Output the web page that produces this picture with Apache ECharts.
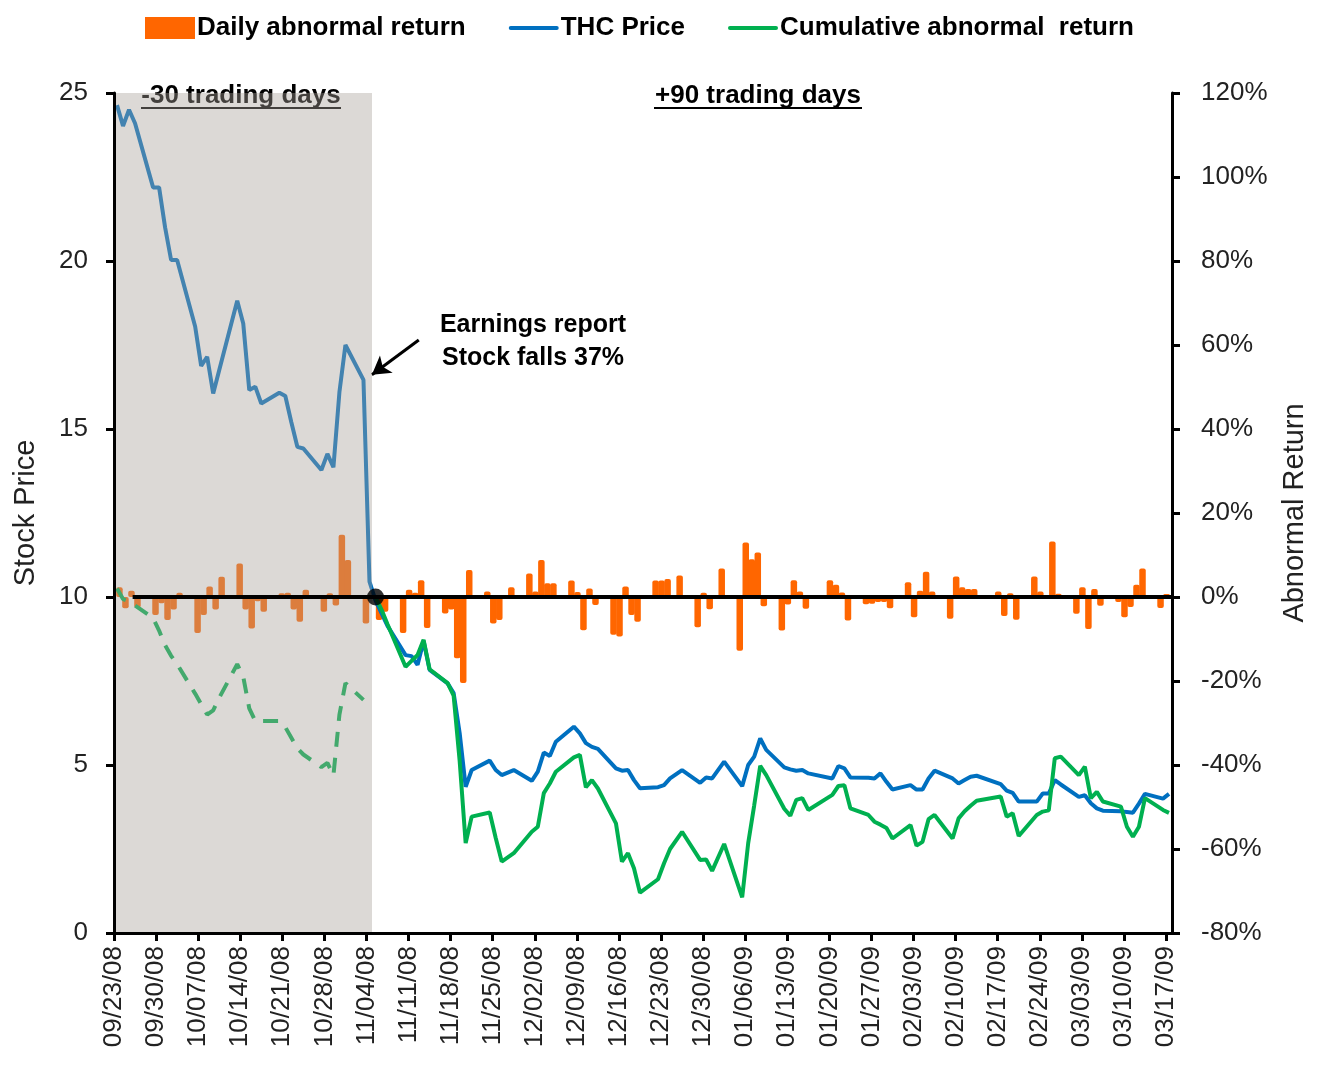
<!DOCTYPE html>
<html><head><meta charset="utf-8">
<script src="https://cdn.jsdelivr.net/npm/echarts@6/dist/echarts.min.js"></script>
<style>html,body{margin:0;padding:0;background:#fff}#c{width:1317px;height:1065px}</style>
</head><body><div id="c"></div>
<script>
// ---------- DATA ----------
const preDates = [
 '09/23/08','09/24/08','09/25/08','09/26/08',
 '09/29/08','09/30/08','10/01/08','10/02/08','10/03/08',
 '10/06/08','10/07/08','10/08/08','10/09/08','10/10/08',
 '10/13/08','10/14/08','10/15/08','10/16/08','10/17/08',
 '10/20/08','10/21/08','10/22/08','10/23/08','10/24/08',
 '10/27/08','10/28/08','10/29/08','10/30/08','10/31/08',
 '11/03/08','11/04/08'];
const postDates = [
 '11/05/08','11/06/08','11/07/08',
 '11/10/08','11/11/08','11/12/08','11/13/08','11/14/08',
 '11/17/08','11/18/08','11/19/08','11/20/08','11/21/08',
 '11/24/08','11/25/08','11/26/08','11/28/08',
 '12/01/08','12/02/08','12/03/08','12/04/08','12/05/08',
 '12/08/08','12/09/08','12/10/08','12/11/08','12/12/08',
 '12/15/08','12/16/08','12/17/08','12/18/08','12/19/08',
 '12/22/08','12/23/08','12/24/08','12/26/08',
 '12/29/08','12/30/08','12/31/08','01/02/09',
 '01/05/09','01/06/09','01/07/09','01/08/09','01/09/09',
 '01/12/09','01/13/09','01/14/09','01/15/09','01/16/09',
 '01/20/09','01/21/09','01/22/09','01/23/09',
 '01/26/09','01/27/09','01/28/09','01/29/09','01/30/09',
 '02/02/09','02/03/09','02/04/09','02/05/09','02/06/09',
 '02/09/09','02/10/09','02/11/09','02/12/09','02/13/09',
 '02/17/09','02/18/09','02/19/09','02/20/09',
 '02/23/09','02/24/09','02/25/09','02/26/09','02/27/09',
 '03/02/09','03/03/09','03/04/09','03/05/09','03/06/09',
 '03/09/09','03/10/09','03/11/09','03/12/09','03/13/09',
 '03/16/09','03/17/09'];

const pricePre = [
 24.64,24.02,24.5,24.1,
 22.19,22.19,21.0,20.03,20.03,
 18.05,16.88,17.15,16.06,16.75,
 18.82,18.14,16.16,16.26,15.76,
 16.08,15.98,15.2,14.47,14.42,
 13.78,14.26,13.86,16.1,17.5,
 16.46,10.46];
const pricePost = [
 9.9,9.52,9.14,
 8.27,8.24,7.98,8.69,7.83,
 7.43,7.14,5.95,4.35,4.85,
 5.13,4.85,4.70,4.85,
 4.53,4.80,5.37,5.27,5.69,
 6.14,5.94,5.65,5.54,5.48,
 4.90,4.83,4.85,4.55,4.31,
 4.34,4.40,4.60,4.85,
 4.47,4.63,4.60,5.10,
 4.37,5.00,5.25,5.79,5.45,
 4.93,4.87,4.83,4.85,4.75,
 4.60,4.97,4.90,4.63,
 4.62,4.60,4.75,4.50,4.27,
 4.40,4.27,4.27,4.60,4.83,
 4.60,4.45,4.55,4.65,4.68,
 4.43,4.24,4.17,3.91,
 3.91,4.15,4.15,4.55,4.42,
 4.05,4.10,3.86,3.71,3.64,
 3.62,3.60,3.58,3.85,4.14,
 4.00,4.14];

const dailyPre = [
 2.3,-2.7,1.5,-2.5,
 -4.3,-1.5,-5.5,-3.0,1.0,
 -8.6,-4.3,2.5,-3.0,4.8,
 8.0,-3.0,-7.5,-1.0,-3.5,
 0.9,1.0,-3.0,-5.9,1.7,
 -3.5,0.9,-2.0,14.8,8.8,
 -6.3,null];
const dailyPost = [
 0.5,-5.5,-3.5,
 -8.6,1.7,1.0,4.0,-7.4,
 -3.9,-3.0,-14.6,-20.5,6.4,
 1.3,-6.3,-5.5,2.3,
 5.6,1.3,8.8,3.3,3.3,
 3.9,1.2,-7.9,2.0,-1.9,
 -9.0,-9.4,2.5,-4.3,-5.9,
 3.9,3.9,4.3,5.1,
 -7.2,1.0,-2.9,6.8,
 -12.8,13.0,9.0,10.6,-2.2,
 -8.0,-1.8,4.0,1.3,-2.8,
 4.0,2.9,1.1,-5.6,
 -1.7,-1.6,-1.2,-1.2,-2.7,
 3.5,-4.8,1.5,6.0,1.3,
 -5.2,4.9,2.3,1.9,1.9,
 1.3,-4.5,0.9,-5.4,
 4.9,1.3,0.5,13.2,0.8,
 -4.0,2.3,-7.6,1.9,-2.1,
 -1.2,-4.8,-2.4,2.9,6.8,
 -2.6,0.7];

const carPre = [
 2.0,-0.5,-1.0,-2.0,
 -5.0,-8.0,-11.5,-14.0,-16.0,
 -23.0,-25.5,-28.0,-27.0,-24.0,
 -16.0,-19.0,-26.5,-29.5,-29.5,
 -29.5,-31.0,-33.5,-36.0,-37.5,
 -40.5,-39.5,-42.5,-28.0,-20.5,
 -24.5,null];
const carPost = [
 0,-3,-6.5,
 -16.6,-15.2,-13.8,-10.2,-17.2,
 -20.5,-23.5,-39,-58.6,-52.3,
 -51.3,-57.4,-63,-61,
 -55.9,-54.7,-46.7,-44.4,-41.6,
 -38.2,-37.6,-45.3,-43.6,-45.6,
 -53.9,-63,-61,-64.6,-70.4,
 -67.2,-63.4,-60,-55.9,
 -62.6,-62.5,-65.2,-58.8,
 -71.5,-58.6,-49.6,-40.2,-42.4,
 -50.4,-52.1,-48.3,-47.9,-50.7,
 -47.1,-45,-44.8,-50.3,
 -51.9,-53.5,-54.2,-55,-57.5,
 -54.3,-59.2,-58.3,-52.9,-51.9,
 -57.5,-52.7,-51,-49.7,-48.5,
 -47.5,-52.3,-51.5,-56.9,
 -51.9,-51.1,-50.8,-38.4,-38,
 -42.4,-40.4,-47.9,-46.4,-48.7,
 -49.9,-54.7,-57.1,-54.7,-47.9,
 -50.7,-51.4];

const legendNames = ['Daily abnormal return','THC Price','Cumulative abnormal  return'];
const priceAxis = {min:0, max:25, interval:5};
const returnAxis = {min:-80, max:120, interval:20};
const axisStartDate = '09/23/08';
const axisEndDate = '03/18/09';
const tickEveryDays = 7;
const eventDate = '11/05/08';
const shadeEndDate = '11/04/08';
const zeroLineStartDate = '09/26/08';
const headerPre = '-30 trading days';
const headerPost = '+90 trading days';
const noteLines = ['Earnings report','Stock falls 37%'];

// ---------- HELPERS ----------
function parseD(s){const [m,d,y]=s.split('/').map(Number);return Date.UTC(2000+y,m-1,d);}
const T0 = parseD(axisStartDate);
const dayOf = s => Math.round((parseD(s)-T0)/86400000);
const X = s => dayOf(s)+0.5;
const fmtDay = v => {const dt=new Date(T0+v*86400000);const p=n=>String(n).padStart(2,'0');
  return p(dt.getUTCMonth()+1)+'/'+p(dt.getUTCDate())+'/'+p(dt.getUTCFullYear()%100);};

const allDates = preDates.concat(postDates);
const allPrice = pricePre.concat(pricePost);

const FONT = 'Liberation Sans';
const LINE_ICON = 'path://M2,0 L48,0 A2,2 0 0 1 48,4 L2,4 A2,2 0 0 1 2,0 Z';
const chart = echarts.init(document.getElementById('c'), null, {renderer:'canvas'});

const option = {
  animation:false,
  textStyle:{fontFamily:FONT},
  grid:{left:114, right:139, top:93, bottom:132},
  legend:{
    top:10, left:140, itemGap:43, itemWidth:50, itemHeight:22, symbolKeepAspect:true,
    textStyle:{fontSize:26, fontWeight:'bold', color:'#000', fontFamily:FONT, padding:[0,0,0,-3]},
    data:[{name:legendNames[0], icon:'rect'},
          {name:legendNames[1], icon:LINE_ICON},
          {name:legendNames[2], icon:LINE_ICON}]
  },
  xAxis:{
    type:'value', min:0, max:dayOf(axisEndDate), interval:tickEveryDays,
    splitLine:{show:false},
    axisLine:{onZero:false, lineStyle:{color:'#000', width:3}},
    axisTick:{length:8, lineStyle:{color:'#000', width:3}},
    axisLabel:{rotate:90, margin:13, fontSize:26, color:'#222', fontFamily:FONT,
      showMaxLabel:false, padding:[6,0,0,0],
      formatter:v => (Math.round(v)%tickEveryDays===0 ? fmtDay(Math.round(v)) : '')},
    z:10
  },
  yAxis:[
    {type:'value', min:priceAxis.min, max:priceAxis.max, interval:priceAxis.interval,
     name:'Stock Price', nameLocation:'middle', nameRotate:90, nameGap:74,
     nameTextStyle:{fontSize:29, color:'#222', fontFamily:FONT},
     splitLine:{show:false},
     axisLine:{show:true, onZero:false, lineStyle:{color:'#000', width:3}},
     axisTick:{show:true, length:8, lineStyle:{color:'#000', width:3}},
     axisLabel:{fontSize:26, margin:26, color:'#222', fontFamily:FONT}, z:10},
    {type:'value', position:'right', min:returnAxis.min, max:returnAxis.max, interval:returnAxis.interval,
     name:'Abnormal Return', nameLocation:'middle', nameRotate:90, nameGap:108,
     nameTextStyle:{fontSize:29, color:'#222', fontFamily:FONT},
     splitLine:{show:false},
     axisLine:{show:true, onZero:false, lineStyle:{color:'#000', width:3}},
     axisTick:{show:true, length:8, lineStyle:{color:'#000', width:3}},
     axisLabel:{fontSize:26, margin:29, color:'#222', fontFamily:FONT, formatter:'{value}%'}, z:10}
  ],
  series:[
    {type:'bar', name:legendNames[0], yAxisIndex:1, barWidth:6.5, barGap:'-25%', z:2,
     itemStyle:{color:'#FF6600', borderRadius:2},
     data:postDates.map((d,i)=>[X(d), dailyPost[i]])},
    {type:'bar', name:legendNames[0], yAxisIndex:1, barWidth:6.5, barGap:'-25%', z:2,
     itemStyle:{color:'#FF6600', borderRadius:2},
     data:preDates.map((d,i)=>[X(d), dailyPre[i]])},
    {type:'line', name:legendNames[1], yAxisIndex:0, z:3, symbol:'none', showSymbol:false,
     lineStyle:{color:'#0070C0', width:4}, itemStyle:{color:'#0070C0'},
     data:allDates.map((d,i)=>[X(d), allPrice[i]])},
    {type:'line', name:'CAR before', yAxisIndex:1, z:3, symbol:'none', showSymbol:false,
     lineStyle:{color:'#00B050', width:4, type:[15,11]},
     data:preDates.map((d,i)=>[X(d), carPre[i]])},
    {type:'line', name:legendNames[2], yAxisIndex:1, z:4, symbol:'none', showSymbol:false,
     lineStyle:{color:'#00B050', width:4}, itemStyle:{color:'#00B050'},
     data:postDates.map((d,i)=>[X(d), carPost[i]])},
    {type:'custom', name:'shade', z:5, silent:true, yAxisIndex:0,
     data:[[0, dayOf(shadeEndDate)+0.92]], encode:{x:[0,1]},
     renderItem:(p,api)=>{
       const a=api.coord([api.value(0), priceAxis.max]);
       const b=api.coord([api.value(1), priceAxis.min]);
       return {type:'rect', shape:{x:a[0], y:a[1], width:b[0]-a[0], height:b[1]-a[1]},
               style:{fill:'rgba(167,160,152,0.4)'}};
     }},
    {type:'line', name:'zero', yAxisIndex:1, z:6, symbol:'none', silent:true,
     lineStyle:{color:'#000', width:4},
     data:[[dayOf(zeroLineStartDate)+0.1,0],[dayOf(axisEndDate),0]]},
    {type:'scatter', name:'event', yAxisIndex:1, z:7, symbol:'circle', symbolSize:17,
     itemStyle:{color:'#000'}, silent:true,
     data:[[X(eventDate),0]],
     markLine:{silent:true, symbol:['none','arrow'], symbolSize:[16,18],
       lineStyle:{color:'#000', width:3, type:'solid'}, label:{show:false},
       data:[[{coord:[50.7,61.2]},{coord:[42.9,52.9]}]]}}
  ],
  graphic:[
    {type:'group', children:[
      {type:'text', x:241, y:96, style:{text:headerPre, font:'bold 26px "Liberation Sans"', fill:'#000', textAlign:'center', textVerticalAlign:'middle'}},
      {type:'line', shape:{x1:141, y1:108, x2:341, y2:108}, style:{stroke:'#000', lineWidth:2}},
      {type:'text', x:758, y:96, style:{text:headerPost, font:'bold 26px "Liberation Sans"', fill:'#000', textAlign:'center', textVerticalAlign:'middle'}},
      {type:'line', shape:{x1:654, y1:108, x2:862, y2:108}, style:{stroke:'#000', lineWidth:2}},
      {type:'text', x:533, y:325, style:{text:noteLines[0], font:'bold 25px "Liberation Sans"', fill:'#000', textAlign:'center', textVerticalAlign:'middle'}},
      {type:'text', x:533, y:358, style:{text:noteLines[1], font:'bold 25px "Liberation Sans"', fill:'#000', textAlign:'center', textVerticalAlign:'middle'}}
    ]}
  ]
};
chart.setOption(option);
</script></body></html>
